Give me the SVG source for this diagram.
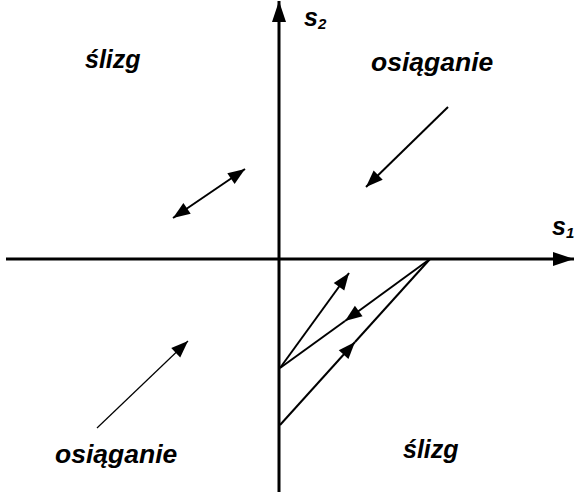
<svg xmlns="http://www.w3.org/2000/svg" width="576" height="498" viewBox="0 0 576 498">
<style>
.lbl{font-family:"Liberation Sans",Arial,sans-serif;font-weight:bold;font-style:italic;fill:#000}
.big{font-size:26.5px}
.mid{font-size:25px}
.ax{stroke:#000;stroke-width:3;fill:none}
.ln{stroke:#000;stroke-width:2;fill:none}
.thin{stroke:#000;stroke-width:1.2;fill:none}
</style>
<defs>
<marker id="ah" markerUnits="userSpaceOnUse" markerWidth="20" markerHeight="14" viewBox="-17 -7 18 14" refX="0" refY="0" orient="auto">
<path d="M0,0 L-17,-6.5 L-17,6.5 Z" fill="#000"/>
</marker>
<marker id="ahs" markerUnits="userSpaceOnUse" markerWidth="20" markerHeight="14" viewBox="-17 -7 18 14" refX="0" refY="0" orient="auto-start-reverse">
<path d="M0,0 L-17,-6.5 L-17,6.5 Z" fill="#000"/>
</marker>
<marker id="axh" markerUnits="userSpaceOnUse" markerWidth="22" markerHeight="16" viewBox="-21 -8 22 16" refX="0" refY="0" orient="auto">
<path d="M0,0 L-21,-7 L-21,7 Z" fill="#000"/>
</marker>
</defs>
<g id="connectors">
<line id="axis-s1" class="ax" x1="6" y1="259" x2="574" y2="259" marker-end="url(#axh)"/>
<line id="axis-s2" class="ax" x1="279" y1="492" x2="279" y2="1" marker-end="url(#axh)"/>
<line class="ln" x1="173" y1="218" x2="245" y2="169" marker-start="url(#ahs)" marker-end="url(#ah)"/>
<line class="ln" x1="448" y1="107" x2="366" y2="187" marker-end="url(#ah)"/>
<line class="thin" x1="97" y1="428" x2="188" y2="341" marker-end="url(#ah)"/>
<line class="ln" x1="280" y1="368" x2="349" y2="273" marker-end="url(#ah)"/>
<line class="ln" x1="430" y1="259" x2="345" y2="321" marker-end="url(#ah)"/>
<line class="ln" x1="345" y1="321" x2="280" y2="368"/>
<line class="ln" x1="280" y1="425" x2="355" y2="342" marker-end="url(#ah)"/>
<line class="ln" x1="355" y1="342" x2="430" y2="259"/>
</g>
<g id="label-s2"><text class="lbl mid" x="304" y="26">s<tspan font-size="15" dy="3">2</tspan></text></g>
<g id="label-s1"><text class="lbl mid" x="552" y="235">s<tspan font-size="15" dy="3">1</tspan></text></g>
<g id="region-ul"><text class="lbl mid" x="85" y="68">ślizg</text></g>
<g id="region-ur"><text class="lbl big" x="371" y="71">osiąganie</text></g>
<g id="region-ll"><text class="lbl big" x="55" y="463">osiąganie</text></g>
<g id="region-lr"><text class="lbl mid" x="403" y="458">ślizg</text></g>
</svg>
